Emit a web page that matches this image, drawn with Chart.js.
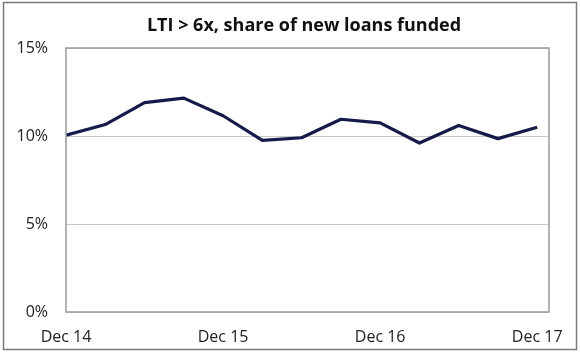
<!DOCTYPE html>
<html><head><meta charset="utf-8">
<script src="https://cdn.jsdelivr.net/npm/chart.js"></script>
<style>html,body{margin:0;padding:0;background:#fff}#wrap{width:580px;height:352px}</style>
</head><body><div id="wrap"><canvas id="c" width="580" height="352"></canvas></div>
<script>
const chartTitle = 'LTI > 6x, share of new loans funded';
const categories = ['Dec 14','Mar 15','Jun 15','Sep 15','Dec 15','Mar 16','Jun 16','Sep 16','Dec 16','Mar 17','Jun 17','Sep 17','Dec 17'];
const shareValues = [10.05,10.65,11.9,12.15,11.15,9.75,9.9,10.95,10.75,9.6,10.6,9.85,10.5];
const xTickLabels = ['Dec 14','Dec 15','Dec 16','Dec 17'];
const yTickValues = [0,5,10,15];

const FONT = "'Open Sans', 'Liberation Sans', sans-serif";

const framePlugin = {
  id: 'frame',
  beforeDraw(chart) {
    const ctx = chart.ctx;
    ctx.save();
    ctx.fillStyle = '#fff';
    ctx.fillRect(0, 0, chart.width, chart.height);
    ctx.restore();
  },
  afterDraw(chart) {
    const ctx = chart.ctx, a = chart.chartArea;
    ctx.save();
    ctx.strokeStyle = '#9a9a9a';
    ctx.lineWidth = 1.5;
    ctx.strokeRect(a.left, a.top, a.right - a.left, a.bottom - a.top);
    ctx.strokeStyle = '#7a7a7a';
    ctx.lineWidth = 1.5;
    ctx.strokeRect(3.5, 2.5, chart.width - 7, chart.height - 5);
    ctx.fillStyle = '#111';
    ctx.font = "bold 18px " + FONT;
    ctx.textAlign = 'center';
    ctx.textBaseline = 'alphabetic';
    ctx.fillText(chartTitle, 304, 31);
    ctx.restore();
  }
};

new Chart(document.getElementById('c'), {
  type: 'line',
  data: {
    datasets: [{
      data: shareValues.map((v, i) => ({ x: i, y: v })),
      borderColor: '#151a4b',
      borderWidth: 3.2,
      pointRadius: 0,
      tension: 0,
      fill: false,
      borderJoinStyle: 'round'
    }]
  },
  options: {
    responsive: false,
    animation: false,
    devicePixelRatio: 1,
    layout: { padding: { top: 48, right: 31, left: 0, bottom: 0 } },
    plugins: { legend: { display: false }, tooltip: { enabled: false }, title: { display: false } },
    scales: {
      x: {
        type: 'linear',
        min: 0,
        max: 12.3,
        afterBuildTicks: s => { s.ticks = xTickLabels.map(l => ({ value: categories.indexOf(l) })); },
        afterFit: s => { s.height = 40; },
        grid: { display: false, drawTicks: false },
        border: { display: false },
        ticks: {
          padding: 16,
          maxRotation: 0,
          autoSkip: false,
          color: '#222',
          font: { family: FONT, size: 16 },
          callback: v => categories[v]
        }
      },
      y: {
        min: 0,
        max: 15,
        afterBuildTicks: s => { s.ticks = yTickValues.map(v => ({ value: v })); },
        afterFit: s => { s.width = 66; },
        grid: { color: '#c8c8c8', lineWidth: 1, drawTicks: false },
        border: { display: false },
        ticks: {
          padding: 18,
          color: '#222',
          font: { family: FONT, size: 16 },
          callback: v => v + '%'
        }
      }
    }
  },
  plugins: [framePlugin]
});
</script>
</body></html>
